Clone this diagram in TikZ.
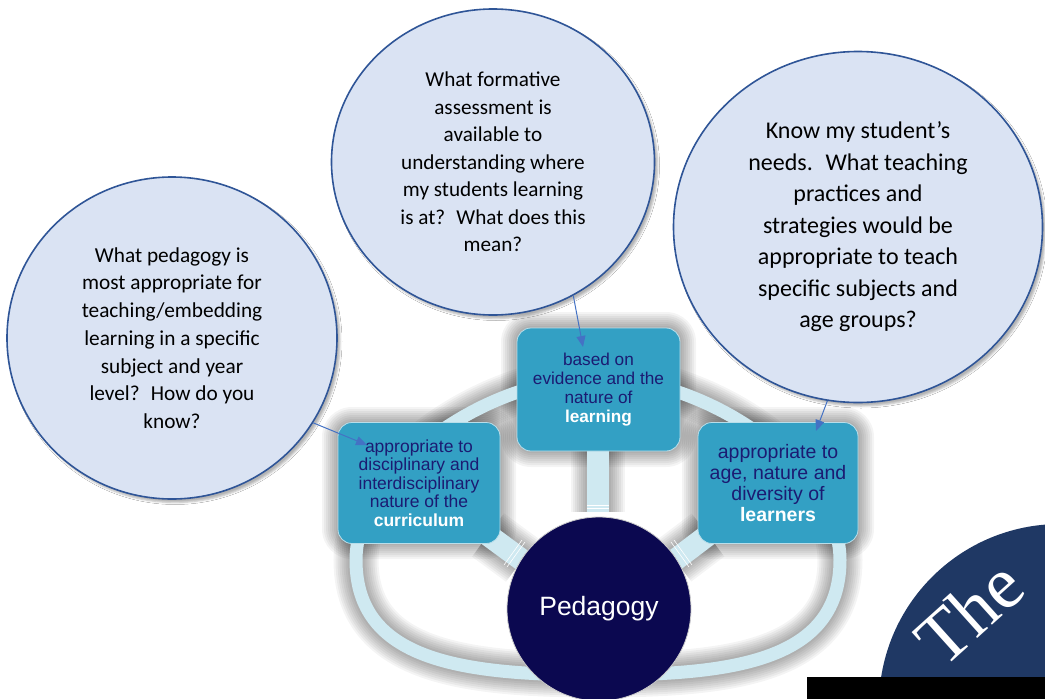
\documentclass[tikz,border=0pt]{standalone}
\usepackage{fontspec}
\setmainfont{Liberation Sans}
\newfontfamily\bubfont{Carlito}
\newfontfamily\boxtxtfont{Liberation Sans}
\newfontfamily\serifthe{Liberation Serif}
\usetikzlibrary{shapes.geometric,arrows.meta,shadows.blur}
\definecolor{bubfill}{HTML}{DAE3F3}
\definecolor{bubline}{HTML}{2F5597}
\definecolor{boxfill}{HTML}{33A0C4}
\definecolor{boxtext}{HTML}{1B1B72}
\definecolor{ringc}{HTML}{CFE9F1}
\definecolor{pedfill}{HTML}{0B0850}
\definecolor{arrowc}{HTML}{4472C4}
\definecolor{navyq}{HTML}{1F3864}
\tikzset{
  bubble/.style={ellipse, draw=bubline, line width=1.6pt, fill=bubfill, inner sep=0pt,
    align=center, text=black,
    blur shadow={shadow xshift=3pt, shadow yshift=-3.5pt, shadow blur radius=2pt, shadow opacity=30}},
  tbox/.style={rectangle, rounded corners=14pt, fill=boxfill, draw=white!65!boxfill, line width=0.8pt,
    align=center, text=boxtext, inner sep=2pt},
  link/.style={draw=arrowc, line width=1pt, -{Triangle[length=11pt,width=9pt]}},
  ringband/.style={draw=ringc, line width=13pt},
  haze/.style={black, opacity=0.045},
  notch/.style={draw=white, line width=0.6pt},
}
\begin{document}
\begin{tikzpicture}[x=1pt,y=-1pt]
\useasboundingbox (0,0) rectangle (1045,699);
\fill[white] (0,0) rectangle (1045,699);

% corner decoration
\begin{scope}
  \clip (0,0) rectangle (1045,677);
  \fill[navyq] (1060,705) circle[radius=181pt];
\end{scope}
\fill[black] (807,677) rectangle (1045,699);
\node[rotate=42, text=white, font=\serifthe\fontsize{74pt}{74pt}\selectfont] (the) at (969,612) {The};

% soft grey shadow of the ring, spokes and boxes
\foreach \k in {1,...,8} {
  \draw[haze, line width={13pt+4pt*\k}]
    (356,560) .. controls (356,660) and (460,675) .. (598,675)
    .. controls (736,675) and (840,660) .. (840,560)
    .. controls (840,470) and (710,378) .. (598,378)
    .. controls (486,378) and (356,470) .. (356,560) -- cycle;
  \draw[haze, line width={22pt+4pt*\k}] (598,451) -- (598,512);
  \draw[haze, line width={22pt+4pt*\k}] (488,535) -- (522,560);
  \draw[haze, line width={22pt+4pt*\k}] (708,535) -- (675,560);
  \fill[haze, rounded corners={14pt+2pt*\k}] (338-2*\k,423-2*\k) rectangle (500+2*\k,543+2*\k);
  \fill[haze, rounded corners={14pt+2pt*\k}] (517-2*\k,328-2*\k) rectangle (680+2*\k,451+2*\k);
  \fill[haze, rounded corners={14pt+2pt*\k}] (698-2*\k,423-2*\k) rectangle (858+2*\k,543+2*\k);
}
% ring
\draw[ringband]
    (356,560) .. controls (356,660) and (460,675) .. (598,675)
    .. controls (736,675) and (840,660) .. (840,560)
    .. controls (840,470) and (710,378) .. (598,378)
    .. controls (486,378) and (356,470) .. (356,560) -- cycle;
% spokes
\draw[ringc, line width=22pt] (598,451) -- (598,512);
\draw[ringc, line width=22pt] (488,535) -- (522,560);
\draw[ringc, line width=22pt] (708,535) -- (675,560);
\draw[notch] (587,505) -- (609,505);
\draw[notch] (587,508) -- (609,508);
\draw[notch] (504,565) -- (522,540);
\draw[notch] (507,567) -- (525,542);
\draw[notch] (692,565) -- (674,540);
\draw[notch] (689,567) -- (671,542);

% boxes
\node[tbox, minimum width=162pt, minimum height=121pt,
      font=\boxtxtfont\fontsize{17.5pt}{18.5pt}\selectfont] (lbox) at (419,483)
  {appropriate to\\disciplinary and\\interdisciplinary\\nature of the\\{\color{white}\bfseries curriculum}};
\node[tbox, minimum width=163pt, minimum height=123pt,
      font=\boxtxtfont\fontsize{17.2pt}{19pt}\selectfont] (tbx) at (598.5,389.5)
  {based on\\evidence and the\\nature of\\{\color{white}\bfseries learning}};
\node[tbox, minimum width=160pt, minimum height=121pt,
      font=\boxtxtfont\fontsize{19.5pt}{20.7pt}\selectfont] (rbox) at (778,483)
  {appropriate to\\age, nature and\\diversity of\\{\color{white}\bfseries learners}};

% central circle
\node[circle, fill=pedfill, draw=gray!40, line width=0.8pt, minimum size=184pt, inner sep=0pt,
      text=white, font=\boxtxtfont\fontsize{26.5pt}{30pt}\selectfont] (ped) at (599,609) {Pedagogy};

% bubbles
\node[bubble, minimum width=330pt, minimum height=322pt,
      font=\bubfont\fontsize{21.3pt}{27.7pt}\selectfont] (lb) at (172,338)
  {What pedagogy is\\most appropriate for\\teaching/embedding\\learning in a specific\\subject and year\\level?~ How do you\\know?};
\node[bubble, minimum width=323pt, minimum height=306pt,
      font=\bubfont\fontsize{21.2pt}{27.5pt}\selectfont] (mb) at (493,162)
  {What formative\\assessment is\\available to\\understanding where\\my students learning\\is at?~ What does this\\mean?};
\node[bubble, minimum width=369pt, minimum height=351pt,
      font=\bubfont\fontsize{24pt}{31.5pt}\selectfont] (rb) at (858,227)
  {Know my student’s\\needs.~ What teaching\\practices and\\strategies would be\\appropriate to teach\\specific subjects and\\age groups?};

% arrow tips
\coordinate (ltip) at (367,445);
\coordinate (mtip) at (583,347);
\coordinate (rtip) at (816,431);
\draw[link] (lb.-31) -- (ltip);
\draw[link] (mb.-59) -- (mtip);
\draw[link] (rb.-100) -- (rtip);
\end{tikzpicture}
\end{document}
